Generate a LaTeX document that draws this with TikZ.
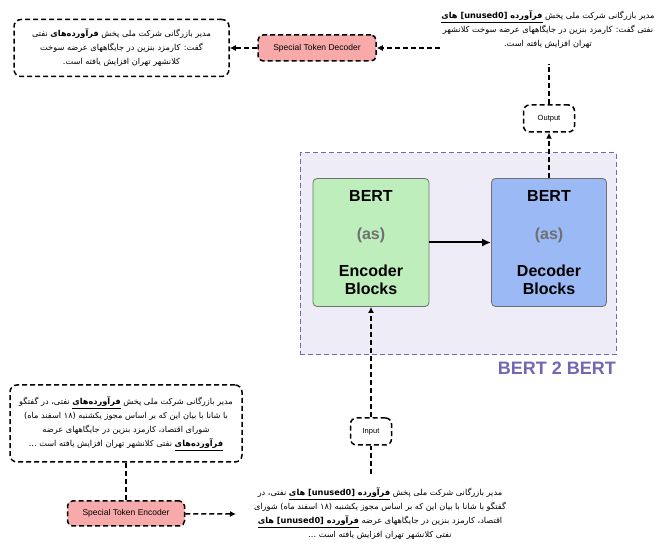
\documentclass[tikz,border=0pt]{standalone}
\usepackage{fontspec}
\setmainfont{Liberation Sans}
\newfontfamily\fa[Script=Arabic]{DejaVu Sans}
\TeXXeTstate=1
\usetikzlibrary{arrows.meta}

\definecolor{tokpink}{HTML}{F8AAAA}
\definecolor{encgreen}{HTML}{BDEEBB}
\definecolor{decblue}{HTML}{9BB9F4}
\definecolor{boxgray}{HTML}{707070}
\definecolor{asgray}{HTML}{707070}
\definecolor{wrapfill}{HTML}{EEECF6}
\definecolor{wrapline}{HTML}{7366B5}

\newcommand\fal[1]{{\fa\beginR #1\endR}}
\newcommand\ulb[1]{\underline{\bfseries\beginR #1\endR}}
\newcommand\unu{\beginL[unused0]\endL{}}

\tikzset{
  dbox/.style={draw, line width=1.5pt, dash pattern=on 5pt off 3pt, rounded corners=7pt, inner sep=0pt},
  tok/.style={dbox, fill=tokpink, rounded corners=5pt, font=\fontsize{8.5}{10}\selectfont},
  tag/.style={dbox, fill=white, rounded corners=6pt, font=\fontsize{7.5}{9}\selectfont},
  bert/.style={draw=boxgray, line width=0.8pt, rounded corners=4pt, align=center, font=\fontsize{16}{18}\selectfont\bfseries},
  fatxt/.style={align=center, font=\fa\fontsize{8.2}{14}\selectfont, inner sep=0pt},
  dline/.style={line width=1.5pt, dash pattern=on 5pt off 3pt},
  tip/.style={-{Latex[length=6pt,width=6pt]}},
}

\begin{document}
\begin{tikzpicture}[x=1pt,y=-1pt]
\useasboundingbox (0,0) rectangle (657,545);

% container
\node[draw=wrapline, fill=wrapfill, line width=1pt, dash pattern=on 5pt off 3pt, minimum width=316pt, minimum height=202pt, inner sep=0pt] (wrap) at (458,254) {};
\node[anchor=east, text=wrapline, font=\fontsize{18}{20}\selectfont\bfseries, inner sep=0pt] (wraplbl) at (616,368) {BERT 2 BERT};

% bert blocks
\node[bert, fill=encgreen, minimum width=116pt, minimum height=128pt] (enc) at (371,242.5) {BERT\\[20pt]{\color{asgray}(as)}\\[19pt]Encoder\\Blocks};
\node[bert, fill=decblue, minimum width=115pt, minimum height=128pt] (dec) at (549,242.5) {BERT\\[20pt]{\color{asgray}(as)}\\[19pt]Decoder\\Blocks};

% small tags
\node[tag, minimum width=51pt, minimum height=27pt] (out) at (549,118.5) {Output};
\node[tag, minimum width=41pt, minimum height=27pt] (inp) at (371,431.5) {Input};

% special tokens
\node[tok, minimum width=118pt, minimum height=26pt] (std) at (317,48) {Special Token Decoder};
\node[tok, minimum width=117pt, minimum height=25pt] (ste) at (126,513.5) {Special Token Encoder};

% text boxes
\node[dbox, fatxt, minimum width=215pt, minimum height=57pt] (tl) at (121.5,48) {%
\fal{مدیر بازرگانی شرکت ملی پخش {\bfseries فرآورده‌های} نفتی}\\
\fal{گفت: کارمزد بنزین در جایگاههای عرضه سوخت}\\
\fal{کلانشهر تهران افزایش یافته است.}};

\node[dbox, fatxt, minimum width=232pt, minimum height=77pt] (bl) at (126,423.5) {%
\fal{مدیر بازرگانی شرکت ملی پخش \ulb{فرآورده‌های} نفتی، در گفتگو}\\
\fal{با شانا با بیان این که بر اساس مجوز یکشنبه (۱۸ اسفند ماه)}\\
\fal{شورای اقتصاد، کارمزد بنزین در جایگاههای عرضه}\\
\fal{\ulb{فرآورده‌های} نفتی کلانشهر تهران افزایش یافته است ...}};

\node[fatxt] (trtext) at (548,30) {%
\fal{مدیر بازرگانی شرکت ملی پخش \ulb{فرآورده \unu{} های}}\\
\fal{نفتی گفت: کارمزد بنزین در جایگاههای عرضه سوخت کلانشهر}\\
\fal{تهران افزایش یافته است.}};

\node[fatxt] (btext) at (380,514) {%
\fal{مدیر بازرگانی شرکت ملی پخش \ulb{فرآورده \unu{} های} نفتی، در}\\
\fal{گفتگو با شانا با بیان این که بر اساس مجوز یکشنبه (۱۸ اسفند ماه) شورای}\\
\fal{اقتصاد، کارمزد بنزین در جایگاههای عرضه \ulb{فرآورده \unu{} های}}\\
\fal{نفتی کلانشهر تهران افزایش یافته است ...}};

% free ends
\coordinate (trin) at (440,48);
\coordinate (trout) at (549,64);
\coordinate (bin) at (236,514);
\coordinate (bout) at (371,474);

% connectors
\draw[dline,tip] (trin) -- (std);
\draw[dline,tip] (std) -- (tl);
\draw[dline] (out) -- (trout);
\draw[dline,tip] (dec) -- (out);
\draw[line width=2pt,-{Latex[length=9pt,width=8pt]}] (enc) -- (dec);
\draw[dline,tip] (inp) -- (enc);
\draw[dline] (bout) -- (inp);
\draw[dline] (bl) -- (ste);
\draw[dline,tip] (ste) -- (bin);

\end{tikzpicture}
\end{document}
